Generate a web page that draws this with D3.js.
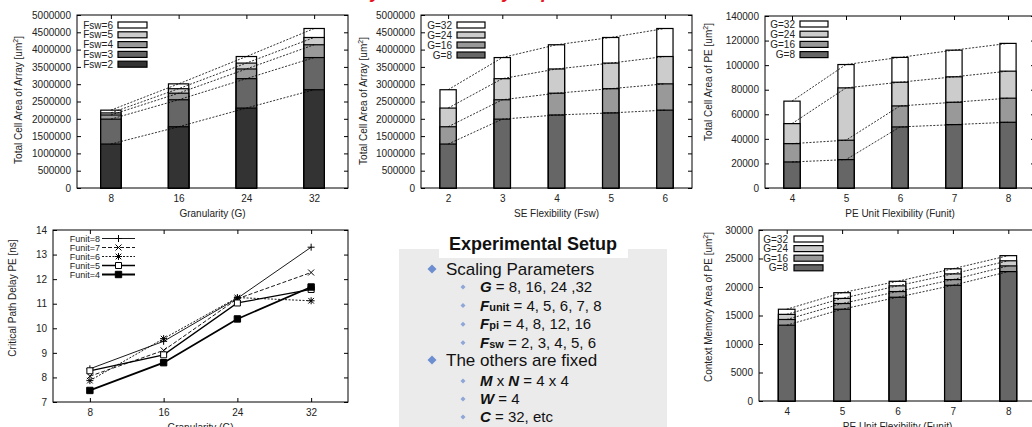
<!DOCTYPE html>
<html>
<head>
<meta charset="utf-8">
<style>
body { margin: 0; background: #fff; }
svg { display: block; font-family: "Liberation Sans", Arial, Helvetica, sans-serif; }
</style>
</head>
<body>
<svg width="1032" height="427"></svg>
<script src="https://cdnjs.cloudflare.com/ajax/libs/d3/7.8.5/d3.min.js"></script>
<script>
// ---- data ----
const granularity = [8, 16, 24, 32];
const fswLevels = [2, 3, 4, 5, 6];
const funitLevels = [4, 5, 6, 7, 8];

// total cell area of array [um^2]: one row per G, one column per Fsw
const arrayArea = [
  [1270000, 1990000, 2110000, 2170000, 2250000],
  [1770000, 2550000, 2740000, 2870000, 3010000],
  [2310000, 3160000, 3440000, 3610000, 3800000],
  [2840000, 3770000, 4140000, 4350000, 4610000]
];
// total cell area of PE [um^2]: one row per G, one column per Funit
const peArea = [
  [21200, 23100, 49700, 51600, 53500],
  [36100, 38900, 66800, 69800, 73100],
  [52400, 81500, 86100, 90500, 95100],
  [70700, 100500, 106300, 112200, 117700]
];
// context memory area of PE [um^2]: one row per G, one column per Funit
const ctxArea = [
  [13300, 16100, 18200, 20300, 22700],
  [14300, 17100, 19200, 21300, 23700],
  [15200, 18000, 20200, 22300, 24600],
  [16100, 19000, 21000, 23200, 25500]
];
// critical path delay [ns]: one row per Funit (legend order), one column per G
const delayFunit = [8, 7, 6, 5, 4];
const delay = [
  [8.35, 9.47, 11.22, 13.30],
  [8.05, 9.10, 11.20, 12.27],
  [7.87, 9.58, 11.25, 11.12],
  [8.27, 8.92, 11.03, 11.58],
  [7.47, 8.60, 10.38, 11.68]
];

const scalingItems = [
  [["G", "bi"], [" = 8, 16, 24 ,32", ""]],
  [["F", "bi"], ["unit", "bs"], [" = 4, 5, 6, 7, 8", ""]],
  [["F", "bi"], ["pi", "bs"], [" = 4, 8, 12, 16", ""]],
  [["F", "bi"], ["sw", "bs"], [" = 2, 3, 4, 5, 6", ""]]
];
const fixedItems = [
  [["M", "bi"], [" x ", ""], ["N", "bi"], [" = 4 x 4", ""]],
  [["W", "bi"], [" = 4", ""]],
  [["C", "bi"], [" = 32, etc", ""]]
];

const svg = d3.select("svg");
const FONT = "Liberation Sans, Arial, sans-serif";
const TXT = "#222";

// red heading, only its lower edge is inside the picture
svg.append("text").attr("x", 455).attr("y", -2).attr("text-anchor", "middle")
  .attr("font-size", 19).attr("font-weight", "bold").attr("font-style", "italic")
  .attr("fill", "#e8141c").text("Scalability and Flexibility Exploration");

function frame(g, x, y, b, yTicks, xTicks) {
  g.append("g").attr("transform", `translate(${b.x0},0)`)
    .call(d3.axisLeft(y).tickValues(yTicks).tickSize(-4).tickPadding(6).tickFormat(d3.format("d")));
  g.append("g").attr("transform", `translate(${b.x1},0)`)
    .call(d3.axisRight(y).tickValues(yTicks).tickSize(-4).tickFormat(""));
  const bottom = d3.axisBottom(x).tickSize(-4).tickPadding(7);
  const top = d3.axisTop(x).tickSize(-4).tickFormat("");
  if (xTicks) { bottom.tickValues(xTicks); top.tickValues(xTicks); }
  g.append("g").attr("transform", `translate(0,${b.y1})`).call(bottom);
  g.append("g").attr("transform", `translate(0,${b.y0})`).call(top);
  g.selectAll(".domain").remove();
  g.selectAll(".tick text").attr("fill", TXT).attr("font-size", 10);
  g.selectAll("g").attr("font-family", FONT);
  g.append("rect").attr("x", b.x0).attr("y", b.y0)
    .attr("width", b.x1 - b.x0).attr("height", b.y1 - b.y0)
    .attr("fill", "none").attr("stroke", "#000");
}

function labels(g, b, o) {
  const t = g.append("text").attr("text-anchor", "middle").attr("font-size", 10).attr("fill", TXT)
    .attr("transform", `translate(${o.ylx + 3.5},${o.yly}) rotate(-90)`);
  t.append("tspan").text(o.yLabel);
  if (o.sup) {
    t.append("tspan").attr("font-size", 7).attr("dy", -4).text("2");
    t.append("tspan").attr("dy", 4).text("]");
  }
  g.append("text").attr("x", (b.x0 + b.x1) / 2).attr("y", b.y1 + 29)
    .attr("text-anchor", "middle").attr("font-size", 10).attr("fill", TXT).text(o.xLabel);
}

function barPanel(o) {
  const b = o.box;
  const g = svg.append("g");
  const x = d3.scalePoint().domain(o.cats).range([b.x0, b.x1]).padding(0.5);
  const y = d3.scaleLinear().domain([0, o.yMax]).range([b.y1, b.y0]);
  const bw = x.step() * 0.3;
  frame(g, x, y, b, d3.range(0, o.yMax + 1, o.yStep));

  // overlapping bars, tallest series behind
  for (let s = o.series.length - 1; s >= 0; s--) {
    g.append("g").selectAll("rect").data(o.series[s]).join("rect")
      .attr("x", (d, i) => x(o.cats[i]) - bw / 2)
      .attr("y", d => y(d))
      .attr("width", bw)
      .attr("height", d => b.y1 - y(d))
      .attr("fill", o.colors[s]).attr("stroke", "#000").attr("stroke-width", 1.2);
  }
  const line = d3.line().x((d, i) => x(o.cats[i])).y(d => y(d));
  o.series.forEach(sr => {
    g.append("path").attr("d", line(sr)).attr("fill", "none")
      .attr("stroke", "#000").attr("stroke-width", 0.8).attr("stroke-dasharray", "2,1.5");
  });

  const L = o.legend;
  const n = o.series.length;
  for (let k = n - 1; k >= 0; k--) {
    const r = n - 1 - k;
    const yy = L.y0 + r * L.dy;
    g.append("text").attr("x", L.tx).attr("y", yy + 3.5).attr("text-anchor", "end")
      .attr("font-size", 10).attr("fill", TXT).text(o.names[k]);
    g.append("rect").attr("x", L.sx).attr("y", yy - 3).attr("width", L.sw).attr("height", 6)
      .attr("fill", o.colors[k]).attr("stroke", "#000").attr("stroke-width", 1.2);
  }
  labels(g, b, o);
}

const gColors = ["#666", "#999", "#ccc", "#fff"];

barPanel({
  box: { x0: 77, x1: 348, y0: 15, y1: 188 },
  cats: granularity,
  series: fswLevels.map((f, j) => arrayArea.map(row => row[j])),
  names: fswLevels.map(f => "Fsw=" + f),
  colors: ["#333", "#666", "#999", "#ccc", "#fff"],
  yMax: 5000000, yStep: 500000,
  yLabel: "Total Cell Area of Array [um", sup: true, ylx: 18, yly: 100,
  xLabel: "Granularity (G)",
  legend: { tx: 113, sx: 118, sw: 29, y0: 25, dy: 9.8 }
});

barPanel({
  box: { x0: 421, x1: 692, y0: 15, y1: 188 },
  cats: fswLevels,
  series: arrayArea,
  names: granularity.map(v => "G=" + v),
  colors: gColors,
  yMax: 5000000, yStep: 500000,
  yLabel: "Total Cell Area of Array [um", sup: true, ylx: 363, yly: 101,
  xLabel: "SE Flexibility (Fsw)",
  legend: { tx: 452, sx: 457, sw: 28, y0: 25, dy: 10 }
});

barPanel({
  box: { x0: 765, x1: 1035, y0: 16, y1: 188 },
  cats: funitLevels,
  series: peArea,
  names: granularity.map(v => "G=" + v),
  colors: gColors,
  yMax: 140000, yStep: 20000,
  yLabel: "Total Cell Area of PE [um", sup: true, ylx: 708, yly: 82,
  xLabel: "PE Unit Flexibility (Funit)",
  legend: { tx: 795, sx: 800, sw: 28, y0: 24, dy: 10.2 }
});

barPanel({
  box: { x0: 759, x1: 1036, y0: 230, y1: 401 },
  cats: funitLevels,
  series: ctxArea,
  names: granularity.map(v => "G=" + v),
  colors: gColors,
  yMax: 30000, yStep: 5000,
  yLabel: "Context Memory Area of PE [um", sup: true, ylx: 708, yly: 307,
  xLabel: "PE Unit Flexibility (Funit)",
  legend: { tx: 788, sx: 794, sw: 29, y0: 239, dy: 9.6 }
});

// ---- critical path delay line chart ----
(function () {
  const b = { x0: 53, x1: 348, y0: 230, y1: 402 };
  const g = svg.append("g");
  const x = d3.scaleLinear().domain([4, 36]).range([b.x0, b.x1]);
  const y = d3.scaleLinear().domain([7, 14]).range([b.y1, b.y0]);
  frame(g, x, y, b, d3.range(7, 15), granularity);

  const marks = {
    plus: "M-3.5,0H3.5M0,-3.5V3.5",
    cross: "M-3,-3L3,3M-3,3L3,-3",
    star: "M-3.5,0H3.5M0,-3.5V3.5M-2.8,-2.8L2.8,2.8M-2.8,2.8L2.8,-2.8",
    square: "M-3,-3H3V3H-3Z",
    fsquare: "M-3.2,-3.2H3.2V3.2H-3.2Z"
  };
  const styles = [
    { dash: null, w: 0.9, m: "plus", fill: "none" },
    { dash: "4,2", w: 0.9, m: "cross", fill: "none" },
    { dash: "2,1.5", w: 0.9, m: "star", fill: "none" },
    { dash: null, w: 1.3, m: "square", fill: "#fff" },
    { dash: null, w: 1.8, m: "fsquare", fill: "#000" }
  ];
  const line = d3.line().x((d, i) => x(granularity[i])).y(d => y(d));

  delay.forEach((sr, k) => {
    const st = styles[k];
    g.append("path").attr("d", line(sr)).attr("fill", "none").attr("stroke", "#000")
      .attr("stroke-width", st.w).attr("stroke-dasharray", st.dash);
    g.append("g").selectAll("path").data(sr).join("path")
      .attr("transform", (d, i) => `translate(${x(granularity[i])},${y(d)})`)
      .attr("d", marks[st.m]).attr("fill", st.fill).attr("stroke", "#000").attr("stroke-width", 1);
    const yy = 238.5 + k * 9;
    g.append("text").attr("x", 100).attr("y", yy + 3.2).attr("text-anchor", "end")
      .attr("font-size", 9).attr("fill", TXT).text("Funit=" + delayFunit[k]);
    g.append("line").attr("x1", 102).attr("x2", 135).attr("y1", yy).attr("y2", yy)
      .attr("stroke", "#000").attr("stroke-width", st.w).attr("stroke-dasharray", st.dash);
    g.append("path").attr("transform", `translate(118.5,${yy})`)
      .attr("d", marks[st.m]).attr("fill", st.fill).attr("stroke", "#000");
  });

  labels(g, b, { yLabel: "Critical Path Delay PE [ns]", ylx: 12, yly: 298, xLabel: "Granularity (G)" });
})();

// ---- experimental setup box ----
(function () {
  const g = svg.append("g");
  g.append("rect").attr("x", 399).attr("y", 249).attr("width", 268).attr("height", 178).attr("fill", "#ebebeb");
  g.append("rect").attr("x", 439).attr("y", 232).attr("width", 189).attr("height", 26).attr("fill", "#fff");
  g.append("text").attr("x", 533).attr("y", 250).attr("text-anchor", "middle")
    .attr("font-size", 18).attr("font-weight", "bold").attr("fill", "#111").text("Experimental Setup");

  const bigDiamond = "M0,-4.5L4.5,0L0,4.5L-4.5,0Z";
  const smallDiamond = "M0,-2.5L2.5,0L0,2.5L-2.5,0Z";

  function head(label, base) {
    g.append("path").attr("d", bigDiamond).attr("transform", `translate(432,${base - 6})`).attr("fill", "#6d8ed0");
    g.append("text").attr("x", 446).attr("y", base).attr("font-size", 17).attr("fill", "#111").text(label);
  }
  function items(list, base0, step) {
    list.forEach((parts, i) => {
      const base = base0 + i * step;
      g.append("path").attr("d", smallDiamond).attr("transform", `translate(463,${base - 5})`).attr("fill", "#8fa6d8");
      const t = g.append("text").attr("x", 480).attr("y", base).attr("font-size", 15).attr("fill", "#111");
      parts.forEach(([s, f]) => {
        const ts = t.append("tspan").text(s);
        if (f === "bi") ts.attr("font-weight", "bold").attr("font-style", "italic");
        if (f === "bs") ts.attr("font-weight", "bold").attr("font-size", 11);
      });
    });
  }
  head("Scaling Parameters", 275);
  items(scalingItems, 292, 18.6);
  head("The others are fixed", 366);
  items(fixedItems, 386, 18);
})();
</script>
</body>
</html>
